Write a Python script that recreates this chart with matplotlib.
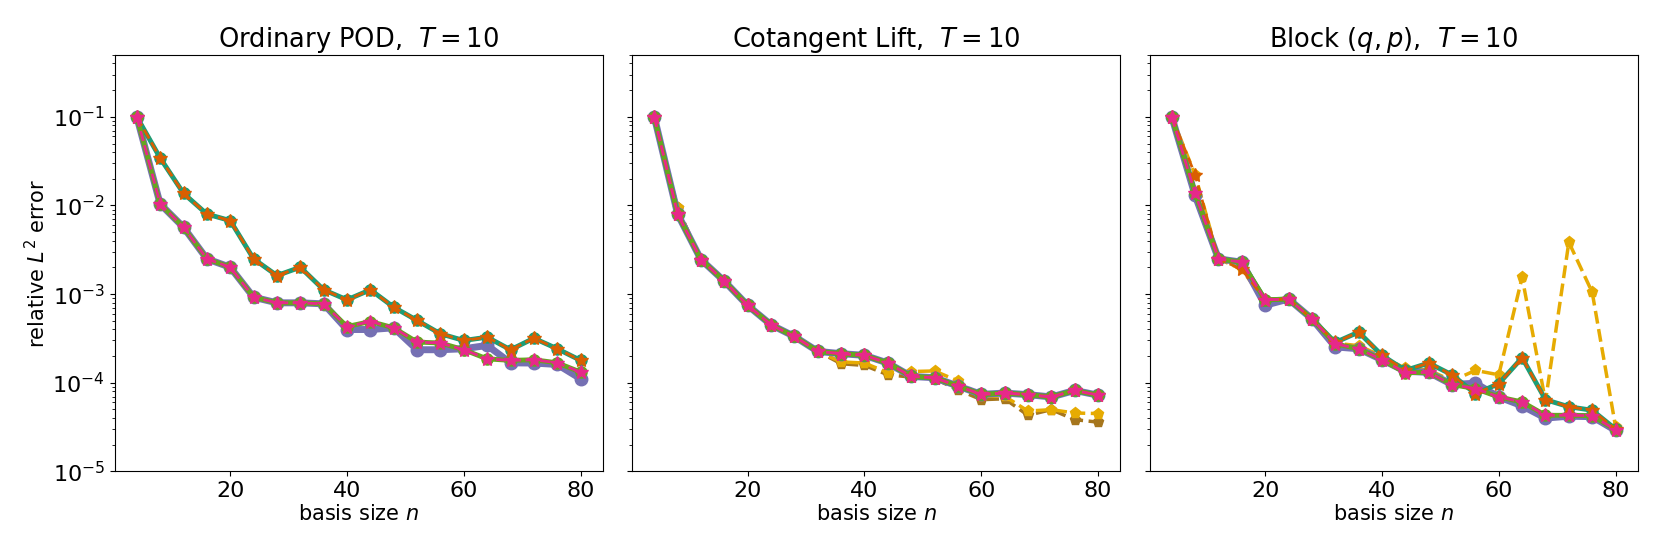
import numpy as np
import matplotlib.pyplot as plt

n = [4, 8, 12, 16, 20, 24, 28, 32, 36, 40, 44, 48, 52, 56, 60, 64, 68, 72, 76, 80]

titles = ["Ordinary POD,  $T = 10$", "Cotangent Lift,  $T = 10$", "Block $(q, p)$,  $T = 10$"]

# --- Ordinary POD ---
pod_upper = [0.1, 0.0343, 0.0137, 0.0080, 0.00675, 0.00250, 0.00162, 0.00201, 0.00112, 0.000863,
             0.00112, 0.000713, 0.000505, 0.000357, 0.000300, 0.000327, 0.000236, 0.000318, 0.000242, 0.000179]
pod_lower = [0.1, 0.0104, 0.00568, 0.00250, 0.00201, 0.000923, 0.000798, 0.000798, 0.000777, 0.000431,
             0.000491, 0.000417, 0.000288, 0.000281, 0.000236, 0.000186, 0.000179, 0.000182, 0.000168, 0.000132]
pod_purple = [0.1, 0.0104, 0.00568, 0.00250, 0.00201, 0.000923, 0.000798, 0.000798, 0.000777, 0.000399,
              0.000399, 0.000417, 0.000236, 0.000236, 0.000242, 0.000264, 0.000168, 0.000167, 0.000161, 0.000111]

# --- Cotangent Lift ---
cot_main = [0.1, 0.0080, 0.00245, 0.00140, 0.000745, 0.000451, 0.000333, 0.000226, 0.000213, 0.000204,
            0.000167, 0.000118, 0.000114, 0.0000919, 0.0000740, 0.0000766, 0.0000735, 0.0000692, 0.0000820, 0.0000725]
cot_yellow = [0.1, 0.0093, 0.00245, 0.00140, 0.000745, 0.000451, 0.000333, 0.000226, 0.000172, 0.000167,
              0.000130, 0.000134, 0.000136, 0.000105, 0.0000705, 0.0000705, 0.0000480, 0.0000498, 0.0000456, 0.0000450]
cot_brown = [0.1, 0.0093, 0.00245, 0.00140, 0.000745, 0.000451, 0.000333, 0.000226, 0.000164, 0.000157,
             0.000123, 0.000116, 0.000111, 0.0000836, 0.0000645, 0.0000660, 0.0000430, 0.0000498, 0.0000384, 0.0000360]

# --- Block (q, p) ---
blk_lower = [0.1, 0.0137, 0.00250, 0.00229, 0.000863, 0.000880, 0.000527, 0.000275, 0.000242, 0.000182,
             0.000130, 0.000131, 0.0000955, 0.0000859, 0.0000692, 0.0000608, 0.0000430, 0.0000430, 0.0000425, 0.0000295]
blk_purple = [0.1, 0.0130, 0.00250, 0.00229, 0.000750, 0.000880, 0.000527, 0.000254, 0.000242, 0.000182,
              0.000135, 0.000131, 0.0000955, 0.0000990, 0.0000692, 0.0000550, 0.0000400, 0.0000420, 0.0000415, 0.0000290]
blk_teal = [0.1, 0.0137, 0.00250, 0.00230, 0.000863, 0.000880, 0.000527, 0.000285, 0.000373, 0.000204,
            0.000138, 0.000167, 0.000123, 0.0000753, 0.0000977, 0.000192, 0.0000645, 0.0000537, 0.0000490, 0.0000300]
blk_orange = [0.1, 0.0222, 0.00250, 0.00190, 0.000863, 0.000880, 0.000527, 0.000285, 0.000373, 0.000204,
              0.000138, 0.000167, 0.000123, 0.0000753, 0.0000977, 0.000192, 0.0000645, 0.0000537, 0.0000490, 0.0000300]
blk_yellow = [0.1, 0.0222, 0.00250, 0.00190, 0.000820, 0.000880, 0.000520, 0.000280, 0.000262, 0.000200,
              0.000145, 0.000140, 0.000105, 0.000138, 0.000123, 0.00155, 0.0000620, 0.00385, 0.00105, 0.0000320]

teal, orange, purple, pink, green, yellow, brown = plt.get_cmap("Dark2").colors[:7]

# (values, color, linestyle, marker, linewidth, markersize) per panel, in draw order
panels = [
    [(pod_upper, brown, "--", "p", 2.5, 8), (pod_upper, yellow, "--", "p", 2.5, 8),
     (pod_purple, purple, "-", "o", 5, 9), (pod_upper, teal, "-", "o", 3.5, 8),
     (pod_lower, green, "-", "o", 3.5, 8), (pod_upper, orange, "--", "*", 2, 10),
     (pod_lower, pink, "--", "*", 2, 10)],
    [(cot_brown, brown, "--", "p", 2.5, 8), (cot_yellow, yellow, "--", "p", 2.5, 8),
     (cot_main, purple, "-", "o", 5, 9), (cot_main, teal, "-", "o", 3.5, 8),
     (cot_main, green, "-", "o", 3.5, 8), (cot_main, orange, "--", "*", 2, 10),
     (cot_main, pink, "--", "*", 2, 10)],
    [(blk_lower, brown, "--", "p", 2.5, 8), (blk_yellow, yellow, "--", "p", 2.5, 8),
     (blk_purple, purple, "-", "o", 5, 9), (blk_teal, teal, "-", "o", 3.5, 8),
     (blk_lower, green, "-", "o", 3.5, 8), (blk_orange, orange, "--", "*", 2, 10),
     (blk_lower, pink, "--", "*", 2, 10)],
]

fig, axes = plt.subplots(1, 3, figsize=(16.61, 5.54), dpi=100, sharey=True)
fig.subplots_adjust(left=0.069, right=0.986, top=0.901, bottom=0.149, wspace=0.06)

for ax, title, lines in zip(axes, titles, panels):
    for vals, c, ls, mk, lw, ms in lines:
        ax.plot(n, vals, color=c, linestyle=ls, marker=mk, linewidth=lw, markersize=ms)
    ax.set_yscale("log")
    ax.set_ylim(1e-5, 0.5)
    ax.set_xticks([20, 40, 60, 80])
    ax.set_title(title, fontsize=18.5)
    ax.set_xlabel("basis size $n$", fontsize=15, labelpad=2)
    ax.tick_params(labelsize=16)

axes[0].set_ylabel("relative $L^2$ error", fontsize=15, labelpad=2)

fig.savefig("out.png")
